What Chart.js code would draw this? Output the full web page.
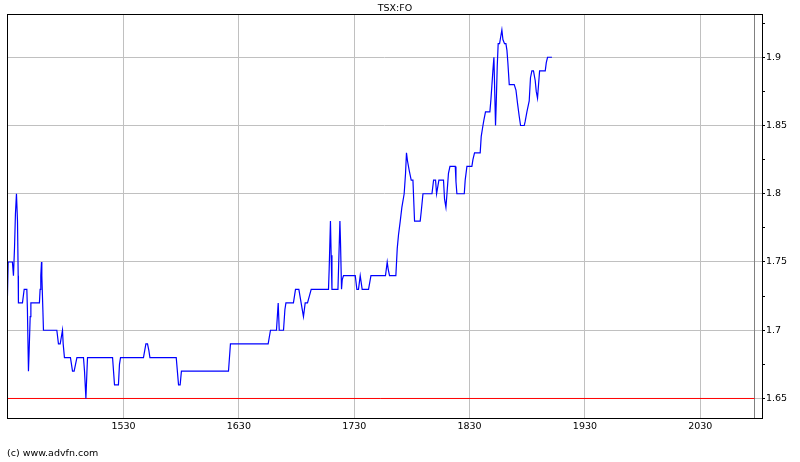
<!DOCTYPE html>
<html>
<head>
<meta charset="utf-8">
<script src="https://cdn.jsdelivr.net/npm/chart.js@4.4.1/dist/chart.umd.min.js"></script>
<style>
  html, body { margin: 0; padding: 0; background: #fff; }
  #wrap { position: relative; width: 800px; height: 462px; }
  #chart { position: absolute; left: 0; top: 0; }
  .txt { position: absolute; font-family: "DejaVu Sans", sans-serif; font-size: 9.5px; color: #000; white-space: nowrap; }
  #title { left: 0; width: 790px; top: 2px; text-align: center; }
  #footer { left: 7px; top: 447px; }
</style>
</head>
<body>
<div id="wrap">
  <canvas id="chart" width="800" height="462"></canvas>
  <div id="title" class="txt">TSX:FO</div>
  <div id="footer" class="txt">(c) www.advfn.com</div>
</div>
<script>
const times = [
  1429.4, 1430.0, 1433.7, 1434.6, 1435.5, 1436.3, 1437.2, 1438.1, 1438.7, 1438.9,
  1442.4, 1443.9, 1446.2, 1446.7, 1447.3, 1447.6, 1448.2, 1449.1, 1449.7, 1457.1,
  1457.7, 1458.3, 1458.9, 1459.2, 1460.1, 1460.6, 1472.2, 1473.6, 1475.1, 1477.1,
  1477.7, 1478.8, 1484.0, 1485.8, 1487.2, 1488.4, 1489.6, 1495.3, 1496.2, 1497.4,
  1498.3, 1498.8, 1520.5, 1522.2, 1525.6, 1526.5, 1527.4, 1547.3, 1549.4, 1550.8,
  1552.0, 1552.9, 1575.7, 1577.7, 1579.1, 1580.2, 1621.0, 1622.7, 1655.4, 1657.4,
  1662.6, 1664.1, 1665.0, 1668.7, 1669.9, 1670.8, 1677.3, 1679.1, 1682.0, 1686.0,
  1687.5, 1689.5, 1692.7, 1707.7, 1708.3, 1709.4, 1710.0, 1710.7, 1715.9, 1717.6,
  1718.1, 1719.0, 1719.6, 1720.7, 1730.9, 1732.3, 1733.7, 1735.2, 1736.9, 1742.4,
  1744.5, 1757.1, 1758.6, 1759.4, 1760.6, 1766.1, 1767.3, 1768.4, 1769.9, 1771.3,
  1773.3, 1774.5, 1775.3, 1776.2, 1777.7, 1779.4, 1780.9, 1782.3, 1787.2, 1788.1,
  1789.6, 1797.4, 1798.8, 1800.5, 1801.4, 1803.4, 1807.4, 1808.3, 1809.5, 1810.4,
  1811.7, 1813.0, 1817.6, 1818.2, 1819.0, 1825.4, 1826.2, 1827.7, 1832.0, 1832.9,
  1834.3, 1839.2, 1840.1, 1841.6, 1842.4, 1843.8, 1847.6, 1848.5, 1849.4, 1850.2,
  1851.1, 1852.5, 1853.1, 1854.0, 1854.8, 1856.0, 1856.6, 1858.0, 1858.9, 1860.3,
  1861.5, 1862.4, 1863.2, 1864.4, 1868.7, 1870.2, 1871.6, 1873.0, 1874.2, 1877.4,
  1878.2, 1879.7, 1881.7, 1882.8, 1884.0, 1885.4, 1886.9, 1887.8, 1888.9, 1889.8,
  1890.7, 1895.6, 1896.5, 1897.6, 1901.4
];
const prices = [
  1.725, 1.75, 1.75, 1.74, 1.76, 1.785, 1.80, 1.78, 1.74, 1.72,
  1.72, 1.73, 1.73, 1.715, 1.685, 1.67, 1.685, 1.71, 1.72, 1.72,
  1.73, 1.74, 1.75, 1.74, 1.715, 1.70, 1.70, 1.69, 1.69, 1.70,
  1.69, 1.68, 1.68, 1.67, 1.67, 1.675, 1.68, 1.68, 1.67, 1.65,
  1.67, 1.68, 1.68, 1.66, 1.66, 1.675, 1.68, 1.68, 1.69, 1.69,
  1.685, 1.68, 1.68, 1.66, 1.66, 1.67, 1.67, 1.69, 1.69, 1.70,
  1.70, 1.72, 1.70, 1.70, 1.715, 1.72, 1.72, 1.73, 1.73, 1.71,
  1.72, 1.72, 1.73, 1.73, 1.745, 1.78, 1.755, 1.73, 1.73, 1.78,
  1.765, 1.73, 1.737, 1.74, 1.74, 1.73, 1.73, 1.74, 1.73, 1.73,
  1.74, 1.74, 1.75, 1.745, 1.74, 1.74, 1.76, 1.77, 1.78, 1.79,
  1.80, 1.815, 1.83, 1.824, 1.817, 1.81, 1.81, 1.78, 1.78, 1.787,
  1.80, 1.80, 1.81, 1.81, 1.80, 1.81, 1.81, 1.796, 1.79, 1.80,
  1.815, 1.82, 1.82, 1.809, 1.80, 1.80, 1.81, 1.82, 1.82, 1.825,
  1.83, 1.83, 1.842, 1.85, 1.854, 1.86, 1.86, 1.869, 1.88, 1.89,
  1.90, 1.85, 1.866, 1.894, 1.91, 1.91, 1.913, 1.92, 1.913, 1.91,
  1.91, 1.905, 1.896, 1.88, 1.88, 1.876, 1.866, 1.857, 1.85, 1.85,
  1.853, 1.86, 1.868, 1.885, 1.89, 1.89, 1.883, 1.875, 1.87, 1.88,
  1.89, 1.89, 1.896, 1.90, 1.90
];

const xTicks = [1530, 1630, 1730, 1830, 1930, 2030];
const yTicks = [1.65, 1.7, 1.75, 1.8, 1.85, 1.9];
const yMinorTicks = [1.675, 1.725, 1.775, 1.825, 1.875, 1.925];

const xMin = 1429, xMax = 2083.5;
const yMin = 1.6357, yMax = 1.9317;
const refPrice = 1.65;     // red reference line
const sessionEnd = 2077.0; // grey vertical marker

const frame = {
  id: "frame",
  afterDraw(chart) {
    const { ctx, chartArea: a } = chart;
    ctx.save();
    ctx.strokeStyle = "#000";
    ctx.lineWidth = 1;
    ctx.strokeRect(Math.round(a.left) + 0.5, Math.round(a.top) + 0.5,
      Math.round(a.right - a.left), Math.round(a.bottom - a.top));
    ctx.restore();
  }
};

const font = { family: "DejaVu Sans", size: 9.5 };

new Chart(document.getElementById("chart"), {
  type: "line",
  data: {
    datasets: [
      {
        data: times.map((t, i) => ({ x: t, y: prices[i] })),
        borderColor: "#0000ff",
        borderWidth: 1.2,
        pointRadius: 0,
        tension: 0,
        order: 1
      },
      {
        data: [{ x: xMin, y: refPrice }, { x: sessionEnd, y: refPrice }],
        borderColor: "#ff0000",
        borderWidth: 1,
        pointRadius: 0,
        order: 2
      },
      {
        data: [{ x: sessionEnd, y: yMin }, { x: sessionEnd, y: yMax }],
        borderColor: "#808080",
        borderWidth: 1,
        pointRadius: 0,
        order: 3
      }
    ]
  },
  options: {
    responsive: false,
    animation: false,
    layout: { padding: { left: 7, top: 14, right: 0, bottom: 24 } },
    plugins: { legend: { display: false }, tooltip: { enabled: false } },
    scales: {
      x: {
        type: "linear",
        min: xMin,
        max: xMax,
        afterBuildTicks: (s) => { s.ticks = xTicks.map((v) => ({ value: v })); },
        afterFit: (s) => { s.height = 20; },
        grid: { color: "#c0c0c0", drawTicks: false },
        border: { display: false },
        ticks: { font, color: "#000", padding: 3, maxRotation: 0, autoSkip: false,
          callback: (v) => String(v) }
      },
      y: {
        type: "linear",
        position: "right",
        min: yMin,
        max: yMax,
        afterBuildTicks: (s) => {
          s.ticks = yTicks.concat(yMinorTicks).sort((a, b) => a - b).map((v) => ({ value: v }));
        },
        afterFit: (s) => { s.width = 38; },
        grid: {
          color: (c) => (yTicks.includes(c.tick && c.tick.value) ? "#c0c0c0" : "rgba(0,0,0,0)"),
          tickColor: "#000",
          tickLength: 3
        },
        border: { display: false },
        ticks: {
          font, color: "#000", padding: 1, autoSkip: false,
          callback: (v) => (yTicks.includes(v) ? String(v) : "")
        }
      }
    }
  },
  plugins: [frame]
});
</script>
</body>
</html>
